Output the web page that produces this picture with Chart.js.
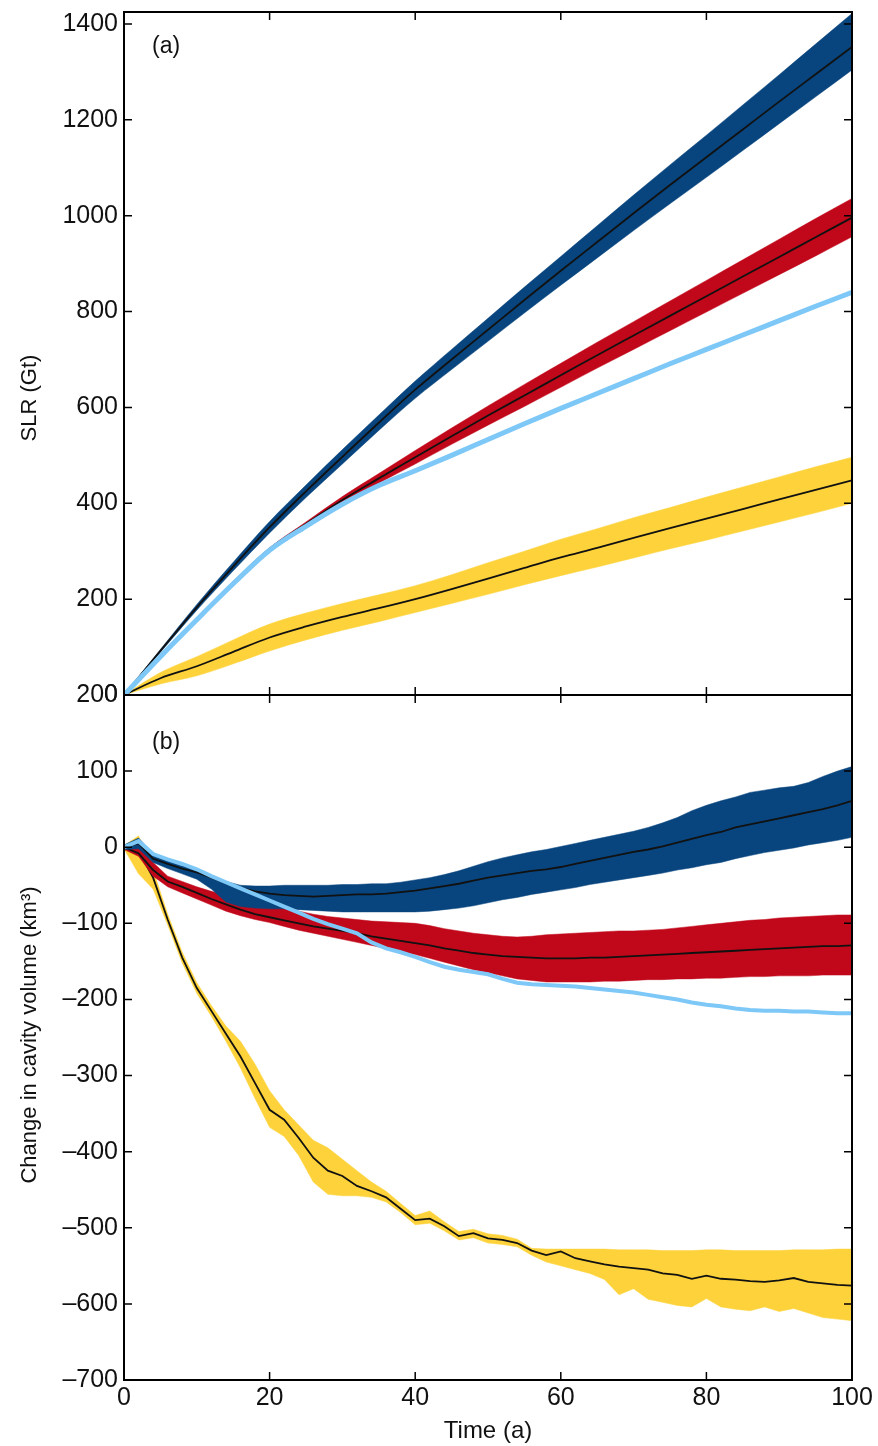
<!DOCTYPE html>
<html>
<head>
<meta charset="utf-8">
<script src="https://cdn.jsdelivr.net/npm/chart.js@4.4.1/dist/chart.umd.min.js"></script>
<style>
  body { margin: 0; background: #fff; }
  canvas { position: absolute; left: 0; }
  #top { top: 0; }
  #bottom { top: 680px; }
</style>
</head>
<body>
<canvas id="top" width="878" height="700"></canvas>
<canvas id="bottom" width="878" height="766"></canvas>
<script>
// panel (a): sea level rise, Gt
var tTop = [0, 5, 10, 15, 20, 25, 30, 35, 40, 45, 50, 55, 60, 65, 70, 75, 80, 85, 90, 95, 100];
var blueMidA = [0, 92, 183, 268, 350, 425, 497, 568, 637, 700, 762, 824, 885, 945, 1005, 1064, 1122, 1180, 1238, 1295, 1352];
var blueHiA  = [0, 95, 189, 277, 362, 438, 512, 584, 655, 721, 786, 851, 915, 979, 1043, 1106, 1168, 1231, 1294, 1358, 1422];
var blueLoA  = [0, 89, 177, 259, 338, 412, 482, 552, 619, 679, 738, 797, 855, 912, 969, 1025, 1080, 1136, 1192, 1248, 1304];
var redMidA  = [0, 82, 160, 235, 305, 357, 407, 452, 496, 540, 583, 625, 667, 709, 750, 791, 832, 873, 914, 955, 996];
var redHiA   = [0, 82, 160, 236, 307, 361, 414, 462, 510, 557, 603, 648, 692, 736, 779, 822, 865, 908, 951, 994, 1036];
var redLoA   = [0, 82, 160, 234, 303, 353, 400, 442, 482, 523, 563, 602, 642, 682, 721, 760, 799, 838, 877, 916, 956];
var lightA   = [0, 80, 157, 232, 302, 352, 398, 437, 468, 500, 533, 566, 598, 629, 660, 691, 721, 751, 781, 811, 840];
var yelMidA  = [0, 35, 60, 90, 120, 143, 163, 181, 200, 221, 243, 265, 287, 307, 328, 348, 368, 388, 408, 428, 448];
var yelHiA   = [0, 47, 80, 115, 148, 171, 191, 209, 228, 251, 276, 300, 325, 347, 370, 391, 413, 434, 455, 476, 496];
var yelLoA   = [0, 23, 40, 65, 92, 115, 135, 153, 172, 191, 210, 230, 249, 267, 286, 305, 323, 342, 361, 380, 400];

// panel (b): change in cavity volume, km3
var tBot = [0, 2, 4, 6, 8, 10, 12, 14, 16, 18, 20, 22, 24, 26, 28, 30, 32, 34, 36, 38, 40, 42, 44, 46, 48, 50,
            52, 54, 56, 58, 60, 62, 64, 66, 68, 70, 72, 74, 76, 78, 80, 82, 84, 86, 88, 90, 92, 94, 96, 98, 100];
var blueMidB = [0, 5, -15, -22, -28, -33, -40, -47, -53, -58, -61, -63, -64, -65, -64, -63, -62, -62, -61, -59, -57, -54, -51, -48, -44, -40,
                -37, -34, -31, -29, -26, -22, -18, -14, -10, -6, -3, 1, 6, 11, 16, 20, 26, 30, 34, 38, 42, 46, 50, 55, 61];
var blueHiB  = [3, 12, -8, -15, -22, -30, -38, -45, -50, -51, -51, -50, -50, -50, -50, -49, -49, -48, -48, -46, -43, -40, -36, -31, -25, -19,
                -14, -10, -6, -3, 1, 5, 9, 13, 17, 21, 26, 32, 39, 48, 55, 61, 66, 72, 75, 78, 80, 85, 93, 100, 106];
var blueLoB  = [-3, -2, -20, -28, -35, -42, -55, -72, -78, -80, -81, -81, -82, -83, -84, -85, -85, -85, -85, -85, -85, -84, -82, -80, -77, -73,
                -69, -66, -62, -59, -56, -53, -49, -46, -43, -40, -37, -34, -30, -27, -23, -20, -15, -11, -7, -4, -1, 3, 6, 9, 13];
var redMidB  = [0, -8, -30, -45, -52, -60, -68, -75, -82, -88, -92, -96, -100, -104, -107, -110, -113, -117, -120, -123, -126, -129, -133, -136, -139, -141,
                -143, -144, -145, -146, -146, -146, -145, -145, -144, -143, -142, -141, -140, -139, -138, -137, -136, -135, -134, -133, -132, -131, -130, -130, -129];
var redHiB   = [3, 0, -20, -38, -45, -52, -58, -63, -68, -72, -76, -80, -84, -88, -91, -93, -95, -97, -98, -99, -100, -103, -107, -110, -113, -115,
                -117, -118, -117, -115, -114, -113, -112, -111, -110, -110, -109, -108, -106, -104, -102, -100, -98, -96, -95, -93, -92, -91, -90, -89, -89];
var redLoB   = [-3, -12, -38, -52, -60, -68, -76, -84, -90, -95, -99, -104, -109, -113, -117, -121, -125, -129, -133, -137, -141, -146, -151, -156, -161, -165,
                -169, -173, -175, -177, -177, -177, -177, -176, -176, -175, -174, -174, -173, -173, -172, -172, -171, -170, -170, -169, -169, -169, -168, -168, -168];
var lightB   = [0, 8, -9, -16, -22, -29, -38, -46, -54, -62, -70, -78, -86, -94, -101, -107, -113, -125, -133, -138, -144, -151, -157, -161, -164, -167,
                -173, -178, -180, -181, -182, -183, -185, -187, -189, -191, -194, -197, -200, -204, -207, -209, -212, -214, -215, -215, -216, -216, -217, -218, -218];
var yelMidB  = [0, -5, -40, -95, -145, -185, -215, -245, -275, -310, -345, -358, -382, -408, -425, -432, -445, -452, -460, -475, -490, -488, -498, -511, -507, -514,
                -516, -520, -530, -536, -531, -540, -544, -548, -551, -553, -555, -560, -562, -567, -563, -567, -568, -570, -571, -569, -566, -571, -573, -575, -576];
var yelHiB   = [2, 15, -30, -88, -138, -178, -208, -235, -255, -285, -320, -345, -365, -385, -395, -410, -425, -440, -452, -468, -484, -478, -492, -505, -502, -508,
                -510, -515, -527, -528, -528, -528, -528, -528, -529, -529, -529, -530, -530, -530, -529, -529, -530, -530, -530, -530, -529, -529, -529, -528, -528];
var yelLoB   = [-2, -35, -55, -102, -152, -192, -222, -255, -290, -330, -368, -380, -405, -440, -456, -458, -458, -460, -466, -480, -496, -494, -504, -516, -513, -520,
                -522, -525, -536, -545, -550, -555, -560, -568, -588, -580, -594, -598, -602, -604, -593, -604, -607, -609, -604, -610, -606, -612, -618, -620, -622];

var xTicks = [0, 20, 40, 60, 80, 100];
var yTicksA = [0, 200, 400, 600, 800, 1000, 1200, 1400];
var yTicksB = [-700, -600, -500, -400, -300, -200, -100, 0, 100, 200];

var DARK_BLUE = '#08457e', RED = '#c0081a', LIGHT_BLUE = '#7ec8f8', YELLOW = '#fdd23a';
var FONT = 'Liberation Sans, Arial, Helvetica, sans-serif';

function pts(ts, ys) {
  return ys.map(function (y, i) { return { x: ts[i], y: y }; });
}

// band = [mid line, lower edge, upper edge filled down to lower edge]
function band(ts, mid, lo, hi, color, order) {
  return [
    { data: pts(ts, mid), borderColor: '#111', borderWidth: 1.8, order: order },
    { data: pts(ts, lo), borderColor: color, borderWidth: 0.5, order: order },
    { data: pts(ts, hi), borderColor: color, borderWidth: 0.5, backgroundColor: color, fill: '-1', order: order }
  ];
}

// box round the plot with inward ticks on all sides
var frame = {
  id: 'frame',
  afterDraw: function (chart) {
    var ctx = chart.ctx, a = chart.chartArea, x = chart.scales.x, y = chart.scales.y;
    ctx.save();
    ctx.strokeStyle = '#000';
    ctx.lineWidth = 1.5;
    ctx.beginPath();
    x.ticks.forEach(function (t) {
      var px = x.getPixelForValue(t.value);
      ctx.moveTo(px, a.bottom); ctx.lineTo(px, a.bottom - 8);
      ctx.moveTo(px, a.top); ctx.lineTo(px, a.top + 8);
    });
    y.ticks.forEach(function (t) {
      var py = y.getPixelForValue(t.value);
      ctx.moveTo(a.left, py); ctx.lineTo(a.left + 8, py);
      ctx.moveTo(a.right, py); ctx.lineTo(a.right - 8, py);
    });
    ctx.stroke();
    ctx.lineWidth = 2;
    ctx.strokeRect(a.left, a.top, a.right - a.left, a.bottom - a.top);
    ctx.restore();
  }
};

// panel letter and rotated y title
var texts = {
  id: 'texts',
  afterDraw: function (chart, args, opts) {
    var ctx = chart.ctx;
    ctx.save();
    ctx.fillStyle = '#111';
    ctx.textBaseline = 'middle';
    ctx.font = '23px ' + FONT;
    ctx.textAlign = 'left';
    ctx.fillText(opts.panel, 152, opts.panelY);
    ctx.font = '22px ' + FONT;
    ctx.textAlign = 'center';
    ctx.translate(30, opts.titleY);
    ctx.rotate(-Math.PI / 2);
    ctx.fillText(opts.title, 0, 0);
    ctx.restore();
  }
};

function opts(yMin, yMax, yTicks, showX, panel, panelY, title, titleY) {
  return {
    responsive: false,
    animation: false,
    layout: { padding: { top: showX ? 15 : 12, right: 26, left: 0, bottom: 0 } },
    elements: { point: { radius: 0 }, line: { tension: 0 } },
    plugins: {
      legend: { display: false },
      tooltip: { enabled: false },
      texts: { panel: panel, panelY: panelY, title: title, titleY: titleY }
    },
    scales: {
      x: {
        type: 'linear', min: 0, max: 100,
        grid: { display: false, drawTicks: false },
        border: { display: false },
        afterBuildTicks: function (s) { s.ticks = xTicks.map(function (v) { return { value: v }; }); },
        ticks: { display: showX, padding: 3, color: '#111', font: { family: FONT, size: 25 } },
        title: { display: showX, text: 'Time (a)', color: '#111', padding: 0, font: { family: FONT, size: 24 } },
        afterFit: function (s) { s.height = showX ? 66 : 5; s.paddingLeft = 0; s.paddingRight = 0; }
      },
      y: {
        type: 'linear', min: yMin, max: yMax,
        grid: { display: false, drawTicks: false },
        border: { display: false },
        afterBuildTicks: function (s) { s.ticks = yTicks.map(function (v) { return { value: v }; }); },
        ticks: {
          padding: 6, color: '#111', font: { family: FONT, size: 25 },
          callback: function (v) { return String(v).replace('-', '\u2013'); }
        },
        afterFit: function (s) { s.width = 124; s.paddingTop = 0; s.paddingBottom = 0; }
      }
    }
  };
}

var dsTop = [{ data: pts(tTop, lightA), borderColor: LIGHT_BLUE, borderWidth: 5, order: 1 }]
  .concat(band(tTop, blueMidA, blueLoA, blueHiA, DARK_BLUE, 2))
  .concat(band(tTop, redMidA, redLoA, redHiA, RED, 3))
  .concat(band(tTop, yelMidA, yelLoA, yelHiA, YELLOW, 4));
dsTop.forEach(function (d) { d.cubicInterpolationMode = 'monotone'; });

new Chart(document.getElementById('top'), {
  type: 'line',
  data: { datasets: dsTop },
  options: opts(0, 1425, yTicksA, false, '(a)', 47, 'SLR (Gt)', 398),
  plugins: [frame, texts]
});

var dsBot = [{ data: pts(tBot, lightB), borderColor: LIGHT_BLUE, borderWidth: 4, order: 1 }]
  .concat(band(tBot, blueMidB, blueLoB, blueHiB, DARK_BLUE, 2))
  .concat(band(tBot, redMidB, redLoB, redHiB, RED, 3))
  .concat(band(tBot, yelMidB, yelLoB, yelHiB, YELLOW, 4));

new Chart(document.getElementById('bottom'), {
  type: 'line',
  data: { datasets: dsBot },
  options: opts(-700, 200, yTicksB, true, '(b)', 63, 'Change in cavity volume (km\u00b3)', 355),
  plugins: [frame, texts]
});
</script>
</body>
</html>
